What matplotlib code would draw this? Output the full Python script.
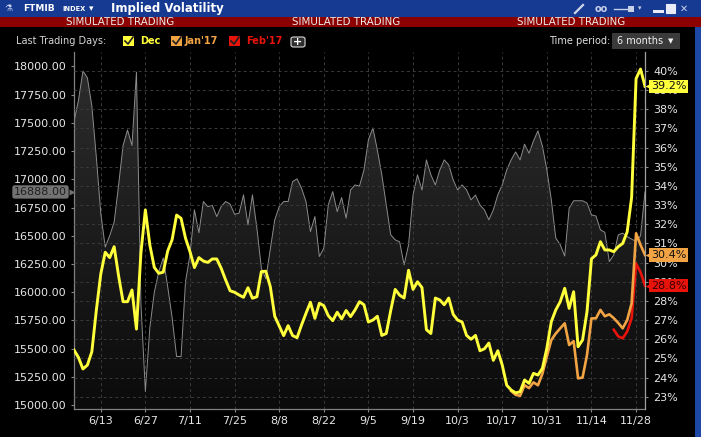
import numpy as np
import pandas as pd
import matplotlib
matplotlib.use('Agg')
import matplotlib.pyplot as plt
from matplotlib.patches import Rectangle, FancyBboxPatch
from matplotlib.lines import Line2D
from matplotlib.colors import LinearSegmentedColormap
from matplotlib.transforms import blended_transform_factory

# ---------------- data ----------------
dates = pd.bdate_range('2016-06-03', '2016-11-30')

index_price = [
    17511, 17700, 17960, 17900, 17650, 17200, 16700, 16400, 16500, 16620,
    16950, 17300, 17437, 17300, 17950, 15900, 15120, 15685, 16000, 16180,
    16304, 16050, 15773, 15430, 15430, 16094, 16331, 16730, 16526, 16803,
    16758, 16770, 16670, 16760, 16803, 16780, 16690, 16700, 16862, 16596,
    16862, 16567, 16213, 16120, 16380, 16641, 16758, 16803, 16803, 16980,
    17004, 16922, 16803, 16537, 16670, 16316, 16390, 16773, 16891, 16714,
    16838, 16655, 16906, 16950, 16940, 17083, 17350, 17455, 17260, 17040,
    16773, 16508, 16464, 16446, 16242, 16420, 16862, 17040, 16906, 17172,
    17040, 16950, 17083, 17172, 17128, 16995, 16906, 16950, 16906, 16818,
    16860, 16773, 16729, 16641, 16729, 16862, 16950, 17083, 17172, 17243,
    17172, 17311, 17231, 17340, 17430, 17295, 17083, 16818, 16480, 16420,
    16320, 16745, 16810, 16810, 16810, 16790, 16685, 16675, 16553, 16530,
    16271, 16331, 16508, 16523, 16493, 16470, 16450, 16500, 16888,
]

dec_iv = [
    25.44, 25.05, 24.45, 24.65, 25.35, 27.5, 29.4, 30.54, 30.26, 30.83,
    29.3, 27.96, 27.96, 28.57, 26.53, 30.5, 32.75, 30.92, 29.75, 29.44,
    29.5, 30.6, 31.2, 32.48, 32.31, 31.27, 30.57, 29.74, 30.26, 30.08,
    30.01, 30.19, 30.19, 29.70, 29.09, 28.53, 28.45, 28.31, 28.19, 28.69,
    28.14, 28.22, 29.53, 29.55, 28.75, 27.2, 26.7, 26.19, 26.71, 26.19,
    26.08, 26.74, 27.35, 27.93, 27.09, 27.88, 27.75, 27.23, 26.97, 27.41,
    27.06, 27.5, 27.18, 27.53, 27.96, 27.8, 26.9, 27.0, 27.2, 26.2,
    26.3, 27.5, 28.6, 28.3, 28.15, 29.6, 28.6, 29.0, 28.7, 26.5,
    26.3, 28.15, 28.05, 27.8, 28.15, 27.3, 27.0, 26.9, 26.2, 26.0,
    26.2, 25.4, 25.5, 25.8, 24.9, 25.4, 24.65, 23.6, 23.35, 23.2,
    23.26, 23.87, 23.7, 24.22, 24.13, 24.48, 25.53, 26.92, 27.53, 27.96,
    28.66, 27.61, 28.48, 25.61, 25.96, 27.44, 30.2, 30.4, 31.09, 30.66,
    30.66, 30.57, 30.83, 31.0, 31.6, 33.4, 39.6, 40.1, 39.2,
]

jan_start = '2016-10-19'
jan_iv = [
    23.3, 23.1, 23.05, 23.6, 23.45, 23.75, 23.6, 24.2, 25.1, 25.96,
    26.3, 26.57, 26.83, 25.7, 25.9, 23.96, 24.0, 25.18, 27.09, 27.09,
    27.53, 27.2, 27.3, 27.1, 26.85, 26.57, 27.0, 27.88, 31.53, 30.92, 30.4,
]

feb_start = '2016-11-21'
feb_iv = [26.5, 26.15, 26.05, 26.4, 27.1, 29.95, 29.5, 28.8]

tick_labels = ['6/13', '6/27', '7/11', '7/25', '8/8', '8/22', '9/5', '9/19',
               '10/3', '10/17', '10/31', '11/14', '11/28']
price_ticks = list(range(15000, 18001, 250))
iv_ticks = list(range(23, 41))

# ---------------- style ----------------
W, H = 701, 437
YEL, ORA, RED = '#ffff3c', '#f2a444', '#e8140c'
TXT = '#e6e6e6'

fig = plt.figure(figsize=(W / 100, H / 100), dpi=100, facecolor='black')


def fx(px):
    return px / W


def fy(py):
    return 1 - py / H


def frect(x, y, w, h, **kw):
    r = Rectangle((fx(x), fy(y + h)), w / W, h / H, transform=fig.transFigure, **kw)
    fig.patches.append(r)
    return r


# header bars
frect(0, 0, W, 17, color='#163a92', lw=0)
frect(0, 17, W, 10, color='#8c0000', lw=0)
frect(695, 27, 6, H - 27, color='#1d48a8', lw=0)

fig.text(fx(4), fy(8.5), '⚗', color='#c8d2ee', fontsize=6.5, va='center')
fig.text(fx(23), fy(8.5), 'FTMIB', color='white', fontsize=6.5, weight='bold', va='center')
fig.text(fx(62), fy(9.2), 'INDEX', color='white', fontsize=4.8, weight='bold', va='center')
fig.text(fx(89), fy(8.5), '▾', color='white', fontsize=6.5, va='center')
fig.text(fx(111), fy(8.3), 'Implied Volatility', color='white', fontsize=8.5,
         weight='bold', va='center')

# header icons
fig.lines.append(Line2D([fx(575), fx(583)], [fy(13), fy(5)], color='#d0d6e8', lw=1.6,
                        transform=fig.transFigure))
fig.text(fx(595), fy(8.5), 'oo', color='#c8d0e8', fontsize=7, weight='bold', va='center')
fig.lines.append(Line2D([fx(614), fx(628)], [fy(9), fy(9)], color='#c8d0e8', lw=1,
                        transform=fig.transFigure))
frect(628, 6, 6, 6, color='#c8d0e8', lw=0)
fig.text(fx(638), fy(8), '▾', color='#c8d0e8', fontsize=5, va='center')
frect(653, 10, 11, 3, color='#e8ecf6', lw=0)
frect(666, 4, 9, 9, facecolor='#e8ecf6', edgecolor='#e8ecf6', lw=0.8)
fig.text(fx(680), fy(8.5), '✕', color='#c8d0e8', fontsize=7, va='center')

for cx in (120.5, 346.5, 571):
    fig.text(fx(cx), fy(22.3), 'SIMULATED TRADING', color='#ececec', fontsize=7.4,
             ha='center', va='center')

# legend row
ly = 41.5
fig.text(fx(16), fy(ly), 'Last Trading Days:', color='#d4d4d4', fontsize=7, va='center')
for bx, tx, lab, col in ((123, 140, 'Dec', YEL), (171, 185, "Jan'17", ORA),
                         (229, 246, "Feb'17", RED)):
    frect(bx, 36, 11, 10, color=col, lw=0)
    fig.lines.append(Line2D([fx(bx + 2), fx(bx + 5), fx(bx + 10)],
                            [fy(41), fy(44), fy(37)], color='#202020', lw=1.2,
                            transform=fig.transFigure))
    fig.text(fx(tx), fy(ly), lab, color=col, fontsize=7, weight='bold', va='center')

plus = FancyBboxPatch((fx(291), fy(47)), 14 / W, 10 / H, transform=fig.transFigure,
                      boxstyle='round,pad=0.0,rounding_size=0.004',
                      facecolor='#2e2e2e', edgecolor='#d8d8d8', lw=0.8)
fig.patches.append(plus)
fig.text(fx(298), fy(42), '+', color='white', fontsize=8, weight='bold',
         ha='center', va='center')

fig.text(fx(549), fy(ly), 'Time period:', color='#e0e0e0', fontsize=7, va='center')
frect(612, 33, 68, 16, color='#3a3a3a', lw=0)
fig.text(fx(617), fy(ly), '6 months', color='#f0f0f0', fontsize=7, va='center')
fig.text(fx(668), fy(ly), '▼', color='#f0f0f0', fontsize=5, va='center')

# ---------------- main axes ----------------
ax = fig.add_axes([fx(74), fy(409), (645 - 74) / W, (409 - 52) / H])
ax.set_facecolor('black')
x = np.arange(len(dates))
n = len(dates)
ymin_p, ymax_p = 14965, 18128

coll = ax.fill_between(x, index_price, ymin_p, color='none', lw=0)
grad = np.linspace(0, 1, 256).reshape(-1, 1)
cmap = LinearSegmentedColormap.from_list('g', ['#0b0b0b', '#2e2e2e'])
im = ax.imshow(grad, extent=[0, n - 1, ymin_p, ymax_p], origin='lower', aspect='auto',
               cmap=cmap, zorder=0.5, interpolation='bilinear')
im.set_clip_path(coll.get_paths()[0], transform=ax.transData)
ax.plot(x, index_price, color='#8c8c8c', lw=0.7, zorder=2)

ax.set_xlim(0, n - 1)
ax.set_ylim(ymin_p, ymax_p)

lbl = [f'{d.month}/{d.day}' for d in dates]
tick_pos = [lbl.index(t) for t in tick_labels]
ax.set_xticks(tick_pos)
ax.set_xticklabels(tick_labels)
ax.set_yticks(price_ticks)
ax.set_yticklabels([f'{v:.2f}' for v in price_ticks])
ax.grid(axis='x', color='#3a3a3a', ls=(0, (3, 3)), lw=0.7)
ax.tick_params(axis='both', colors='#888888', labelcolor=TXT, labelsize=8, length=2)
ax.tick_params(axis='y', pad=3.5)
ax.tick_params(axis='x', pad=3)
for s in ('top', 'right'):
    ax.spines[s].set_visible(False)
for s in ('left', 'bottom'):
    ax.spines[s].set_color('#808080')
    ax.spines[s].set_linewidth(0.9)

ax2 = ax.twinx()
ax2.set_ylim(22.36, 40.99)
ax2.set_yticks(iv_ticks)
ax2.set_yticklabels([f'{v}%' for v in iv_ticks])
ax2.grid(axis='y', color='#3a3a3a', ls=(0, (3, 3)), lw=0.7)
ax2.tick_params(axis='y', colors='#888888', labelcolor=TXT, labelsize=8, length=2, pad=4)
for s in ('top', 'left', 'bottom'):
    ax2.spines[s].set_visible(False)
ax2.spines['right'].set_color('#a0a0a0')
ax2.spines['right'].set_linewidth(0.9)

jx = np.arange(len(jan_iv)) + dates.get_loc(pd.Timestamp(jan_start))
fbx = np.arange(len(feb_iv)) + dates.get_loc(pd.Timestamp(feb_start))
ax2.plot(fbx, feb_iv, color=RED, lw=1.9, zorder=3, solid_joinstyle='round')
ax2.plot(jx, jan_iv, color=ORA, lw=1.9, zorder=4, solid_joinstyle='round')
ax2.plot(x, dec_iv, color=YEL, lw=2.1, zorder=5, solid_joinstyle='round')

# last value labels
tr_r = blended_transform_factory(ax2.transAxes, ax2.transData)
for val, col in ((dec_iv[-1], YEL), (jan_iv[-1], ORA), (feb_iv[-1], RED)):
    ax2.annotate(f'{val:.1f}%', xy=(1, val), xycoords=tr_r, xytext=(6, 0),
                 textcoords='offset pixels', ha='left', va='center', fontsize=8,
                 color='#111111' if col != RED else '#3a0000',
                 bbox=dict(boxstyle='square,pad=0.15', fc=col, ec='none'),
                 annotation_clip=False, zorder=10)
    ax2.plot([1 + 2.5 / 571], [val], marker='<', ms=4, color=col, mec='none',
             transform=tr_r, clip_on=False, zorder=10)

tr_l = blended_transform_factory(ax.transAxes, ax.transData)
ax.annotate(f'{index_price[-1]:.2f}', xy=(0, index_price[-1]), xycoords=tr_l,
            xytext=(-7, 0), textcoords='offset pixels', ha='right', va='center',
            fontsize=8, color='#1e1e1e',
            bbox=dict(boxstyle='round,pad=0.15,rounding_size=0.2', fc='#737373', ec='none'),
            annotation_clip=False, zorder=10)
ax.plot([-2.5 / 571], [index_price[-1]], marker='>', ms=4, color='#737373', mec='none',
        transform=tr_l, clip_on=False, zorder=10)

fig.savefig('out.png', dpi=100, facecolor='black')
